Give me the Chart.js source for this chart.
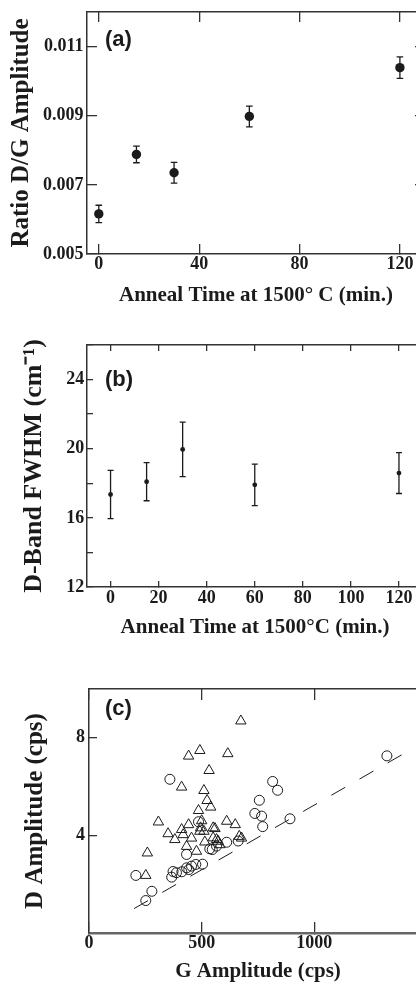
<!DOCTYPE html>
<html>
<head>
<meta charset="utf-8">
<script src="https://cdn.jsdelivr.net/npm/chart.js@4.4.1/dist/chart.umd.min.js"></script>
<style>
  html, body { margin: 0; padding: 0; background: #fff; overflow: hidden; }
  body { width: 416px; height: 984px; position: relative; }
  .panel { position: absolute; left: 0; }
  canvas { display: block; }
</style>
</head>
<body>
<div class="panel" style="top:0"><canvas id="chartA" width="440" height="310"></canvas></div>
<div class="panel" style="top:330px"><canvas id="chartB" width="440" height="310"></canvas></div>
<div class="panel" style="top:670px"><canvas id="chartC" width="440" height="314"></canvas></div>
<script>
// (a) D/G amplitude ratio vs anneal time
const annealTimes = [0, 15, 30, 60, 120];
const ratioDG = [0.00616, 0.00788, 0.00735, 0.00898, 0.01039];
const ratioDGErr = [0.00025, 0.00024, 0.0003, 0.0003, 0.00031];

// (b) D-band FWHM vs anneal time
const fwhmD = [17.35, 18.09, 19.96, 17.91, 18.59];
const fwhmDErr = [1.4, 1.1, 1.58, 1.2, 1.18];

// (c) D amplitude vs G amplitude
const circleG = [208, 252, 279, 359, 367, 373, 388, 412, 433, 433, 443, 455, 474, 486, 504,
  536, 547, 566, 611, 662, 736, 756, 766, 771, 815, 837, 892, 1322];
const circleD = [2.36, 1.33, 1.71, 6.30, 2.29, 2.52, 2.47, 2.51, 3.22, 2.67, 2.60, 2.74, 2.81, 4.56, 2.82,
  3.45, 3.42, 3.56, 3.72, 3.77, 4.90, 5.44, 4.79, 4.36, 6.21, 5.85, 4.68, 7.26];
const triangleG = [674, 492, 442, 616, 533, 411, 510, 524, 540, 486, 308, 351, 411, 442, 381, 418, 455,
  495, 510, 551, 611, 649, 667, 677, 566, 581, 514, 477, 433, 259, 252, 500, 492, 559, 551, 573];
const triangleD = [8.69, 7.48, 7.25, 7.35, 6.66, 5.98, 5.84, 5.43, 5.16, 5.02, 4.55, 4.07, 4.24, 4.44, 3.83, 4.03, 3.89,
  4.31, 4.17, 4.31, 4.58, 4.44, 3.96, 3.89, 3.83, 3.62, 3.73, 3.35, 3.55, 3.28, 2.36, 4.60, 4.17, 4.28, 3.90, 3.76];
const fitG = [200, 1393];
const fitD = [1.0, 7.33];

// tick positions
const ticksA_x = [0, 40, 80, 120];
const ticksA_y = [0.005, 0.007, 0.009, 0.011];
const ticksB_x = [0, 20, 40, 60, 80, 100, 120];
const ticksB_y = [12, 14, 16, 18, 20, 22, 24, 26];
const ticksC_x = [0, 500, 1000];
const ticksC_y = [4, 8];

const INK = '#1b1b1b';
const AXIS = '#333';
const SERIF = '"Liberation Serif", "Times New Roman", serif';

const pts = (xs, ys) => xs.map((x, i) => ({x: x, y: ys[i]}));

const errorBars = {
  id: 'errorBars',
  beforeDatasetsDraw(chart) {
    const {ctx, scales: {x, y}} = chart;
    chart.data.datasets.forEach(ds => {
      if (!ds.errors) return;
      ctx.save();
      ctx.strokeStyle = ds.borderColor;
      ctx.lineWidth = 1.3;
      ds.data.forEach((p, j) => {
        const px = x.getPixelForValue(p.x);
        const hi = y.getPixelForValue(p.y + ds.errors[j]);
        const lo = y.getPixelForValue(p.y - ds.errors[j]);
        const c = ds.capHalf;
        ctx.beginPath();
        ctx.moveTo(px, hi); ctx.lineTo(px, lo);
        ctx.moveTo(px - c, hi); ctx.lineTo(px + c, hi);
        ctx.moveTo(px - c, lo); ctx.lineTo(px + c, lo);
        ctx.stroke();
      });
      ctx.restore();
    });
  }
};

const panelTag = {
  id: 'panelTag',
  afterDraw(chart, args, opts) {
    const {ctx, chartArea} = chart;
    ctx.save();
    ctx.font = 'bold 22px "Liberation Sans", Arial, sans-serif';
    ctx.fillStyle = INK;
    ctx.textAlign = 'left';
    ctx.textBaseline = 'middle';
    ctx.fillText(opts.text, chartArea.left + opts.dx, chartArea.top + opts.dy);
    ctx.restore();
  }
};

// g: frame geometry in canvas pixels plus axis settings
function frameScales(g) {
  const noPad = s => { s.paddingTop = 0; s.paddingBottom = 0; s.paddingLeft = 0; s.paddingRight = 0; };
  const tickFont = {family: SERIF, size: 18, weight: 'bold', lineHeight: 1};
  const titleFont = size => ({family: SERIF, size: size, weight: 'bold', lineHeight: 1});
  const grid = len => ({drawOnChartArea: false, drawTicks: true, tickLength: -len, color: AXIS, lineWidth: 1.3});
  const border = (w, c) => ({display: true, color: c || AXIS, width: w || 1.5});
  return {
    x: {
      type: 'linear', position: 'bottom', min: g.xMin, max: g.xMax,
      afterBuildTicks: s => { s.ticks = g.xTicks.map(v => ({value: v})); },
      afterFit: s => { s.height = g.H - g.bottom; noPad(s); },
      grid: grid(g.xLen), border: border(g.xBorderW, g.xBorderC),
      ticks: {color: INK, font: tickFont, padding: g.xPad, maxRotation: 0, autoSkip: false, callback: g.xFmt},
      title: {display: true, text: g.xTitle, color: INK, font: titleFont(21), padding: {top: 0, bottom: g.xTitlePad}}
    },
    x2: {
      type: 'linear', position: 'top', min: g.xMin, max: g.xMax,
      afterBuildTicks: s => { s.ticks = g.xTicks.map(v => ({value: v})); },
      afterFit: s => { s.height = g.top; noPad(s); },
      grid: grid(g.xLen), border: border(),
      ticks: {display: false}
    },
    y: {
      type: 'linear', position: 'left', min: g.yMin, max: g.yMax,
      afterBuildTicks: s => { s.ticks = g.yTicks.map(v => ({value: v})); },
      afterFit: s => { s.width = g.left; noPad(s); },
      grid: grid(g.yLen), border: border(),
      ticks: {color: INK, font: tickFont, padding: g.yPad, autoSkip: false, callback: g.yFmt},
      title: {display: true, text: g.yTitle, color: INK, font: titleFont(g.yTitleSize), padding: {top: g.yTitlePad, bottom: 0}}
    },
    y2: {
      type: 'linear', position: 'right', min: g.yMin, max: g.yMax,
      afterBuildTicks: s => { s.ticks = g.yTicks.map(v => ({value: v})); },
      afterFit: s => { s.width = g.W - g.right; noPad(s); },
      grid: grid(g.yLen), border: border(),
      ticks: {display: false}
    }
  };
}

function baseOptions(scales, tag) {
  return {
    responsive: false,
    animation: false,
    layout: {padding: 0},
    plugins: {legend: {display: false}, tooltip: {enabled: false}, panelTag: tag},
    scales: scales
  };
}

new Chart(document.getElementById('chartA'), {
  type: 'scatter',
  data: {
    datasets: [{
      data: pts(annealTimes, ratioDG),
      errors: ratioDGErr, capHalf: 3.3,
      pointRadius: 4.7, pointBackgroundColor: INK, borderColor: INK, pointBorderWidth: 0
    }]
  },
  options: baseOptions(frameScales({
    W: 440, H: 310, left: 87, top: 12, right: 425, bottom: 254,
    xMin: -4.7, xMax: 130, yMin: 0.005, yMax: 0.012,
    xTicks: ticksA_x, yTicks: ticksA_y, xLen: 10, yLen: 10,
    xPad: 11, yPad: 13.4,
    xFmt: v => String(v), yFmt: v => v.toFixed(3),
    xTitle: 'Anneal Time at 1500\u00b0 C (min.)', xTitlePad: 4,
    yTitle: 'Ratio D/G Amplitude', yTitleSize: 25, yTitlePad: 9.2
  }), {text: '(a)', dx: 18, dy: 28}),
  plugins: [errorBars, panelTag]
});

new Chart(document.getElementById('chartB'), {
  type: 'scatter',
  data: {
    datasets: [{
      data: pts(annealTimes, fwhmD),
      errors: fwhmDErr, capHalf: 3,
      pointRadius: 2.4, pointBackgroundColor: INK, borderColor: INK, pointBorderWidth: 0
    }]
  },
  options: baseOptions(frameScales({
    W: 440, H: 310, left: 87, top: 15, right: 423, bottom: 257,
    xMin: -9.8, xMax: 130, yMin: 12, yMax: 26,
    xTicks: ticksB_x, yTicks: ticksB_y, xLen: 6, yLen: 6,
    xPad: 8.3, yPad: 8.7,
    xFmt: v => String(v), yFmt: v => (v % 4 === 0 && v < 26 ? String(v) : ''),
    xTitle: 'Anneal Time at 1500\u00b0C (min.)', xTitlePad: 2,
    yTitle: 'D-Band FWHM (cm\u207b\u00b9)', yTitleSize: 26, yTitlePad: 20.9
  }), {text: '(b)', dx: 18, dy: 35}),
  plugins: [errorBars, panelTag]
});

new Chart(document.getElementById('chartC'), {
  type: 'scatter',
  data: {
    datasets: [
      {
        data: pts(fitG, fitD), showLine: true, pointRadius: 0,
        borderColor: INK, borderWidth: 1, borderDash: [16, 16.5]
      },
      {
        data: pts(circleG, circleD), pointStyle: 'circle', pointRadius: 5,
        pointBackgroundColor: 'rgba(0,0,0,0)', borderColor: INK, pointBorderWidth: 1
      },
      {
        data: pts(triangleG, triangleD), pointStyle: 'triangle', pointRadius: 6,
        pointBackgroundColor: 'rgba(0,0,0,0)', borderColor: INK, pointBorderWidth: 1
      }
    ]
  },
  options: baseOptions(frameScales({
    W: 440, H: 314, left: 89, top: 19, right: 427, bottom: 263,
    xMin: 0, xMax: 1500, yMin: 0, yMax: 10,
    xTicks: ticksC_x, yTicks: ticksC_y, xLen: 11, yLen: 8,
    xPad: 12.7, yPad: 12, xBorderW: 2.5, xBorderC: '#666',
    xFmt: v => String(v), yFmt: v => String(v),
    xTitle: 'G Amplitude (cps)', xTitlePad: 2.4,
    yTitle: 'D Amplitude (cps)', yTitleSize: 25, yTitlePad: 22.7
  }), {text: '(c)', dx: 16, dy: 20}),
  plugins: [errorBars, panelTag]
});
</script>
</body>
</html>
